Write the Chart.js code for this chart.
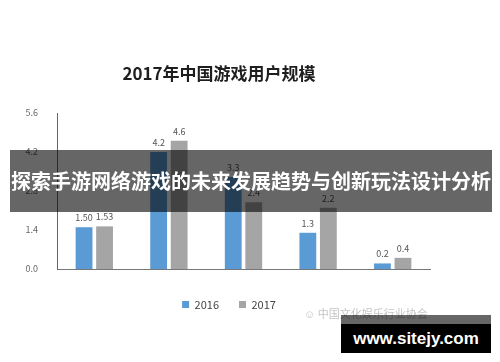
<!DOCTYPE html>
<html>
<head>
<meta charset="utf-8">
<script src="https://cdn.jsdelivr.net/npm/chart.js@4/dist/chart.umd.min.js"></script>
<style>
  html, body { margin: 0; padding: 0; background: #fff; }
  #wrap { position: relative; width: 500px; height: 362px; overflow: hidden; background: #fff;
    font-family: 'Noto Sans CJK SC', 'Microsoft YaHei', sans-serif; }
  #chart-box { position: absolute; left: 0; top: 0; width: 500px; height: 362px; }
  .title { position: absolute; left: 0; width: 438px; top: 60px; text-align: center;
    font-size: 17px; font-weight: bold; color: #1e1e1e; }
  .banner { position: absolute; left: 10px; width: 482px; top: 150px; height: 62px;
    background: rgba(0,0,0,0.6); color: #fff; font-size: 20px; font-weight: bold;
    line-height: 62px; text-align: center; white-space: nowrap; }
  .source { position: absolute; left: 304px; top: 305px; font-size: 11px; color: #c4c4c4; white-space: nowrap; }
  .site-top { position: absolute; left: 341px; width: 150px; top: 315px; height: 9px; background: rgba(0,0,0,0.6); }
  .site { position: absolute; left: 341px; width: 150px; top: 324px; height: 29px; background: #000;
    color: #fff; font-family: 'Liberation Sans', Arial, sans-serif; font-size: 17px; font-weight: bold;
    line-height: 29px; text-align: center; }
</style>
</head>
<body>
<div id="wrap">
  <div id="chart-box"><canvas id="chart"></canvas></div>
  <div class="title">2017年中国游戏用户规模</div>
  <div class="source">☺  中国文化娱乐行业协会</div>
  <div class="banner">探索手游网络游戏的未来发展趋势与创新玩法设计分析</div>
  <div class="site-top"></div>
  <div class="site">www.sitejy.com</div>
</div>
<script>
const categories = ['客户端', '移动端', '网页端', '电竞', 'VR'];
const seriesNames = ['2016', '2017'];
const values2016 = [1.50, 4.2, 3.3, 1.3, 0.2];
const values2017 = [1.53, 4.6, 2.4, 2.2, 0.4];
const labels2016 = ['1.50', '4.2', '3.3', '1.3', '0.2'];
const labels2017 = ['1.53', '4.6', '2.4', '2.2', '0.4'];
const yTicks = [0, 1.4, 2.8, 4.2, 5.6];

// value text above each bar
const valueLabels = {
  id: 'valueLabels',
  afterDatasetsDraw(chart) {
    const ctx = chart.ctx;
    const texts = [labels2016, labels2017];
    ctx.save();
    ctx.font = '9px "Noto Sans CJK SC", sans-serif';
    ctx.fillStyle = '#555';
    ctx.textAlign = 'center';
    ctx.textBaseline = 'bottom';
    chart.data.datasets.forEach((ds, i) => {
      chart.getDatasetMeta(i).data.forEach((bar, j) => {
        ctx.fillText(texts[i][j], bar.x, bar.y - 5);
      });
    });
    ctx.restore();
  }
};

new Chart(document.getElementById('chart'), {
  type: 'bar',
  data: {
    labels: categories,
    datasets: [
      { label: seriesNames[0], data: values2016, backgroundColor: '#5b9bd5' },
      { label: seriesNames[1], data: values2017, backgroundColor: '#a5a5a5' }
    ]
  },
  options: {
    responsive: true,
    maintainAspectRatio: false,
    animation: false,
    categoryPercentage: 0.55,
    barPercentage: 0.82,
    layout: { padding: { top: 113, right: 42, left: 0, bottom: 42 } },
    plugins: {
      legend: {
        position: 'bottom',
        labels: {
          boxWidth: 7, boxHeight: 7, padding: 20, color: '#444',
          font: { size: 11, family: '"Noto Sans CJK SC", sans-serif' }
        }
      },
      tooltip: { enabled: false }
    },
    scales: {
      x: {
        grid: { display: false },
        border: { display: true, color: '#777' },
        ticks: { color: '#555', padding: 8, font: { size: 10, family: '"Noto Sans CJK SC", sans-serif' } },
        afterFit: (s) => { s.height = 10; }
      },
      y: {
        min: 0, max: 5.6,
        grid: { display: false },
        border: { display: true, color: '#666' },
        afterBuildTicks: (s) => { s.ticks = yTicks.map(v => ({ value: v })); },
        ticks: {
          color: '#666', padding: 11, font: { size: 9, family: '"Noto Sans CJK SC", sans-serif' },
          callback: (v) => Number(v).toFixed(1)
        },
        afterFit: (s) => { s.width = 57; }
      },
      y2: {
        position: 'right',
        grid: { display: false },
        border: { display: false },
        ticks: { display: false },
        afterFit: (s) => { s.width = 28; }
      }
    }
  },
  plugins: [valueLabels]
});
</script>
</body>
</html>
